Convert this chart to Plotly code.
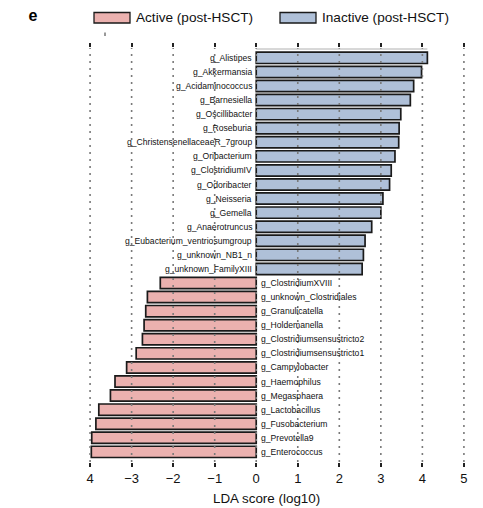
import plotly.graph_objects as go

# Inactive (post-HSCT) genera, top to bottom, positive LDA scores
inactive_taxa = ["g_Alistipes", "g_Akkermansia", "g_Acidaminococcus", "g_Barnesiella",
                 "g_Oscillibacter", "g_Roseburia", "g_ChristensenellaceaeR_7group",
                 "g_Oribacterium", "g_ClostridiumIV", "g_Odoribacter", "g_Neisseria",
                 "g_Gemella", "g_Anaerotruncus", "g_Eubacterium_ventriosumgroup",
                 "g_unknown_NB1_n", "g_unknown_FamilyXIII"]
inactive_lda = [4.12, 3.98, 3.79, 3.71, 3.48, 3.44, 3.43, 3.34, 3.25, 3.21, 3.05,
                3.00, 2.78, 2.62, 2.58, 2.55]

# Active (post-HSCT) genera, top to bottom, negative LDA scores
active_taxa = ["g_ClostridiumXVIII", "g_unknown_Clostridiales", "g_Granulicatella",
               "g_Holdemanella", "g_Clostridiumsensustricto2", "g_Clostridiumsensustricto1",
               "g_Campylobacter", "g_Haemophilus", "g_Megasphaera", "g_Lactobacillus",
               "g_Fusobacterium", "g_Prevotella9", "g_Enterococcus"]
active_lda = [-2.31, -2.62, -2.66, -2.70, -2.74, -2.89, -3.12, -3.40, -3.51, -3.79,
              -3.86, -3.96, -3.97]

tick_vals = [-4, -3, -2, -1, 0, 1, 2, 3, 4, 5]
tick_text = ["4", "\u22123", "\u22122", "\u22121", "0", "1", "2", "3", "4", "5"]

legend_names = ["Active (post-HSCT)", "Inactive (post-HSCT)"]
x_title = "LDA score (log10)"
panel_label = "e"
RED = "#EBB1AF"
BLUE = "#AFC0D8"
FONT = "Liberation Sans, Arial, Helvetica, sans-serif"

all_taxa = inactive_taxa + active_taxa

fig = go.Figure()
fig.add_trace(go.Bar(y=inactive_taxa, x=inactive_lda, orientation="h",
                     marker=dict(color=BLUE, line=dict(color="#1a1a1a", width=1.7)),
                     name=legend_names[1], showlegend=False))
fig.add_trace(go.Bar(y=active_taxa, x=active_lda, orientation="h",
                     marker=dict(color=RED, line=dict(color="#1a1a1a", width=1.7)),
                     name=legend_names[0], showlegend=False))

annotations = []
for t in inactive_taxa:
    annotations.append(dict(x=0, y=t, xref="x", yref="y", text=t, showarrow=False,
                            xanchor="right", xshift=-2,
                            font=dict(size=8.6, color="#111", family=FONT)))
for t in active_taxa:
    annotations.append(dict(x=0, y=t, xref="x", yref="y", text=t, showarrow=False,
                            xanchor="left", xshift=3,
                            font=dict(size=8.6, color="#111", family=FONT)))

shapes = []
for v in tick_vals:
    shapes.append(dict(type="line", xref="x", yref="paper", x0=v, x1=v, y0=0, y1=1,
                       layer="above",
                       line=dict(color="#7a7a7a", width=1.6, dash="2px,5px")))

# page has an 8px body margin; plot area in window coords: left=88, width=378, top=48, height=414
OFF = 8
L, W, T, H = 88, 378, 48, 414
def px(x):
    return (x - L) / W
def py(y):
    return 1 - (y - T) / H

shapes.append(dict(type="rect", xref="paper", yref="paper",
                   x0=px(94), x1=px(130), y0=py(23), y1=py(12.5),
                   fillcolor=RED, line=dict(color="#1a1a1a", width=1.3)))
shapes.append(dict(type="rect", xref="paper", yref="paper",
                   x0=px(280), x1=px(316), y0=py(23), y1=py(12.5),
                   fillcolor=BLUE, line=dict(color="#1a1a1a", width=1.3)))
# faint top line and stray tick mark seen in the reference
shapes.append(dict(type="line", xref="x", yref="paper", x0=0, x1=inactive_lda[0],
                   y0=py(49), y1=py(49), line=dict(color="#b0b0b0", width=1)))
shapes.append(dict(type="line", xref="paper", yref="paper", x0=px(105), x1=px(105),
                   y0=py(36), y1=py(32.5), line=dict(color="#333", width=1)))
annotations.append(dict(x=px(134), y=py(18), xref="paper", yref="paper",
                        text=legend_names[0], showarrow=False, xanchor="left",
                        yanchor="middle", font=dict(size=13.6, color="#111", family=FONT)))
annotations.append(dict(x=px(320), y=py(18), xref="paper", yref="paper",
                        text=legend_names[1], showarrow=False, xanchor="left",
                        yanchor="middle", font=dict(size=13.6, color="#111", family=FONT)))
annotations.append(dict(x=px(266), y=py(498), xref="paper", yref="paper",
                        text=x_title, showarrow=False, xanchor="center",
                        yanchor="middle", font=dict(size=13.4, color="#111", family=FONT)))

cat_order = list(reversed(all_taxa))

fig.update_layout(
    width=483 - OFF, height=508 - OFF,
    margin=dict(l=L - OFF, r=483 - L - W, t=T - OFF, b=508 - T - H),
    paper_bgcolor="white", plot_bgcolor="white",
    barmode="overlay", bargap=0.2,
    showlegend=False,
    font=dict(family=FONT, color="#111"),
    title=dict(text="<b>" + panel_label + "</b>", xref="container", yref="container",
               x=(33 - OFF) / (483 - OFF), y=1 - (15.5 - OFF) / (508 - OFF),
               xanchor="center", yanchor="middle",
               font=dict(size=16, color="#000", family=FONT)),
    xaxis=dict(range=[-4.05, 5.05], tickvals=tick_vals, ticktext=tick_text,
               showgrid=False, zeroline=False, showline=False, automargin=False,
               ticks="outside", ticklen=4, tickwidth=1.5, tickcolor="#222",
               mirror="ticks",
               tickfont=dict(size=13, color="#111", family=FONT)),
    yaxis=dict(categoryorder="array", categoryarray=cat_order,
               range=[-0.72, len(all_taxa) - 1 + 0.7], automargin=False,
               showticklabels=False, showgrid=False, zeroline=False,
               showline=False, ticks=""),
    shapes=shapes,
    annotations=annotations,
)

fig.write_html("out.html")
